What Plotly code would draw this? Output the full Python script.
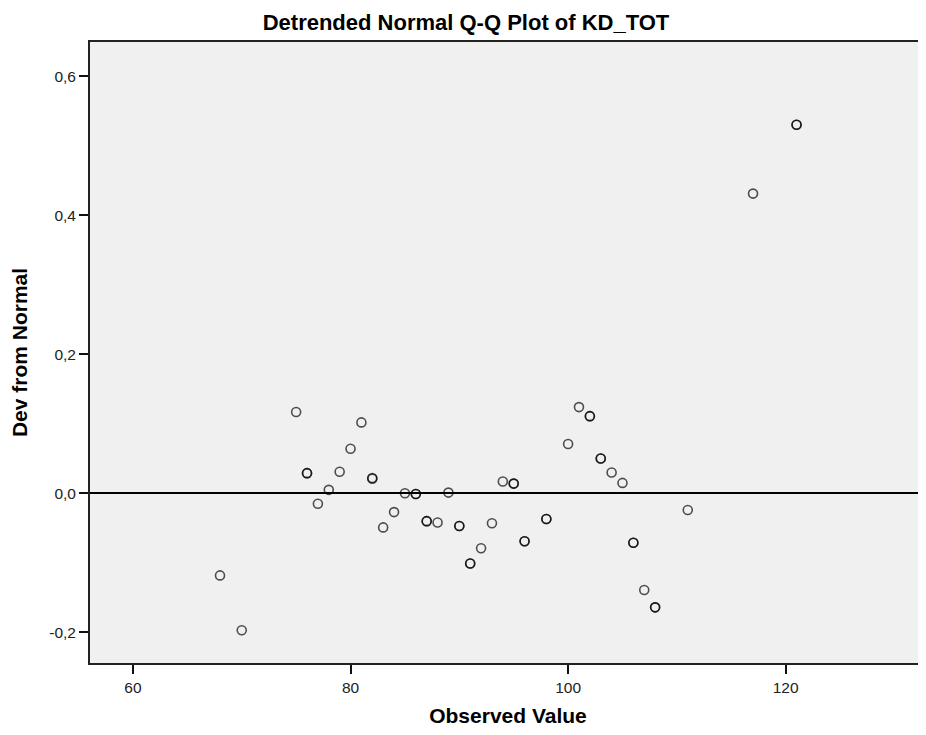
import plotly.graph_objects as go

# Observed values (tied values appear twice) and their deviation from normal
observed = [68, 70, 75, 76, 76, 77, 78, 79, 80, 81, 82, 82, 83, 84, 85, 86, 86,
            87, 87, 88, 89, 90, 90, 91, 91, 92, 93, 94, 95, 95, 96, 96, 98, 98,
            100, 101, 102, 102, 103, 103, 104, 105, 106, 106, 107, 108, 108,
            111, 117, 121, 121]
deviation = [-0.118, -0.197, 0.117, 0.029, 0.029, -0.015, 0.005, 0.031, 0.064,
             0.102, 0.021, 0.022, -0.049, -0.027, 0.000, -0.001, -0.001,
             -0.040, -0.040, -0.042, 0.001, -0.047, -0.047, -0.101, -0.101,
             -0.079, -0.043, 0.017, 0.014, 0.014, -0.069, -0.069, -0.037, -0.037,
             0.071, 0.124, 0.111, 0.111, 0.050, 0.050, 0.030, 0.015, -0.071,
             -0.071, -0.139, -0.164, -0.164, -0.024, 0.431, 0.530, 0.530]

x_ticks = [60, 80, 100, 120]
y_ticks = [-0.2, 0.0, 0.2, 0.4, 0.6]
y_tick_labels = ["-0,2", "0,0", "0,2", "0,4", "0,6"]

title_text = "Detrended Normal Q-Q Plot of KD_TOT"
x_title = "Observed Value"
y_title = "Dev from Normal"

FONT = "Liberation Sans, Arial, sans-serif"

# page body has an 8px default margin; figure is sized so the page is 926x735
W, H = 918, 719

fig = go.Figure(
    go.Scatter(
        x=observed, y=deviation, mode="markers",
        marker=dict(symbol="circle-open", size=9, color="rgba(0,0,0,0.68)",
                    line=dict(width=1.6)),
        hoverinfo="skip", showlegend=False,
    )
)

fig.update_layout(
    width=W, height=H,
    margin=dict(l=82, r=0, t=34, b=64, autoexpand=False),
    paper_bgcolor="white", plot_bgcolor="#F0F0F0",
    separators=",.",
    font=dict(family=FONT, size=15, color="#222"),
    title=dict(text="<b>" + title_text + "</b>", x=458 / W, xref="container",
               xanchor="center", y=1 - 14 / H, yanchor="middle",
               font=dict(family=FONT, size=22, color="black")),
)

fig.update_xaxes(
    range=[56.05, 132.9], tickvals=x_ticks, ticks="outside", ticklen=9,
    tickcolor="#111", tickwidth=1.6, showline=True, linecolor="#222",
    linewidth=1.8, mirror=True, showgrid=False, zeroline=False,
    automargin=False,
    tickfont=dict(size=15.5, color="#222"),
    title=dict(text="<b>" + x_title + "</b>", standoff=25,
               font=dict(family=FONT, size=21, color="black")),
)
fig.update_yaxes(
    range=[-0.244, 0.649], tickvals=y_ticks, ticktext=y_tick_labels,
    ticks="outside",
    ticklen=9, tickcolor="#111", tickwidth=1.6, showline=True,
    linecolor="#222", linewidth=1.8, showgrid=False, automargin=False,
    zeroline=True, zerolinecolor="black", zerolinewidth=1.8,
    tickfont=dict(size=15.5, color="#222"),
    title=dict(text="<b>" + y_title + "</b>", standoff=16,
               font=dict(family=FONT, size=21, color="black")),
)

fig.write_html("out.html")
